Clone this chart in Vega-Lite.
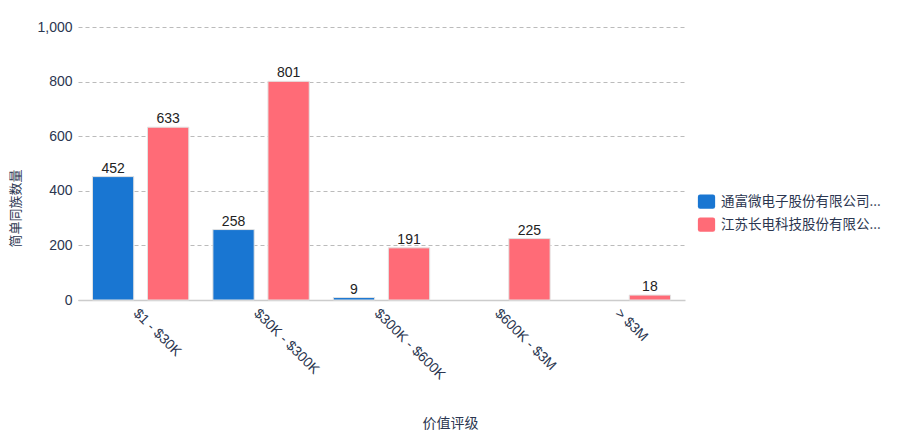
{
  "$schema": "https://vega.github.io/schema/vega-lite/v6.json",
  "autosize": "none",
  "width": 607,
  "height": 273,
  "padding": {"left": 78, "top": 27, "right": 231, "bottom": 135},
  "background": "white",
  "config": {
    "font": "Liberation Sans, Noto Sans CJK SC, sans-serif",
    "view": {"stroke": null}
  },
  "data": {
    "values": [
      {"rating": "$1 - $30K", "company": "通富微电子股份有限公司", "count": 452},
      {"rating": "$1 - $30K", "company": "江苏长电科技股份有限公司", "count": 633},
      {"rating": "$30K - $300K", "company": "通富微电子股份有限公司", "count": 258},
      {"rating": "$30K - $300K", "company": "江苏长电科技股份有限公司", "count": 801},
      {"rating": "$300K - $600K", "company": "通富微电子股份有限公司", "count": 9},
      {"rating": "$300K - $600K", "company": "江苏长电科技股份有限公司", "count": 191},
      {"rating": "$600K - $3M", "company": "江苏长电科技股份有限公司", "count": 225},
      {"rating": "> $3M", "company": "江苏长电科技股份有限公司", "count": 18}
    ]
  },
  "encoding": {
    "x": {
      "field": "rating",
      "type": "nominal",
      "sort": ["$1 - $30K", "$30K - $300K", "$300K - $600K", "$600K - $3M", "> $3M"],
      "scale": {"paddingInner": 0.2, "paddingOuter": 0.12},
      "axis": {
        "title": "价值评级",
        "titleFont": "Noto Sans CJK SC",
        "titleFontSize": 14,
        "titleFontWeight": "normal",
        "titleColor": "#2b3650",
        "titleX": 372,
        "titleY": 123,
        "titleBaseline": "middle",
        "titleAlign": "center",
        "labelAngle": 45,
        "labelFontSize": 14,
        "labelColor": "#2b3650",
        "labelPadding": 6,
        "ticks": false,
        "domainColor": "#cccccc",
        "domainWidth": 1.5,
        "grid": false
      }
    },
    "xOffset": {
      "field": "company",
      "type": "nominal",
      "sort": ["通富微电子股份有限公司", "江苏长电科技股份有限公司"],
      "scale": {"paddingInner": 0.25}
    },
    "y": {
      "field": "count",
      "type": "quantitative",
      "scale": {"domain": [0, 1000]},
      "axis": {
        "title": "简单同族数量",
        "titleFont": "Noto Sans CJK SC",
        "titleFontSize": 13,
        "titleFontWeight": "normal",
        "titleColor": "#2b3650",
        "titleY": 181,
        "titlePadding": 14,
        "values": [0, 200, 400, 600, 800, 1000],
        "format": ",d",
        "labelFontSize": 14,
        "labelColor": "#2b3650",
        "labelPadding": 6,
        "labelOverlap": false,
        "ticks": false,
        "domain": false,
        "gridColor": "#bbbbbb",
        "gridDash": [4, 3],
        "gridWidth": 1
      }
    }
  },
  "layer": [
    {
      "mark": {"type": "bar", "stroke": "#e3e3e3", "strokeWidth": 1},
      "encoding": {
        "color": {
          "field": "company",
          "type": "nominal",
          "sort": ["通富微电子股份有限公司", "江苏长电科技股份有限公司"],
          "scale": {"range": ["#1976d2", "#ff6b77"]},
          "legend": {
            "title": null,
            "orient": "none",
            "legendX": 621,
            "legendY": 167,
            "symbolType": "M -0.85 -0.95 L 0.85 -0.95 Q 1.15 -0.95 1.15 -0.65 L 1.15 0.65 Q 1.15 0.95 0.85 0.95 L -0.85 0.95 Q -1.15 0.95 -1.15 0.65 L -1.15 -0.65 Q -1.15 -0.95 -0.85 -0.95 Z",
            "symbolSize": 225,
            "symbolStrokeWidth": 0,
            "labelFont": "Noto Sans CJK SC",
            "labelFontSize": 13.5,
            "labelColor": "#2b3650",
            "labelLimit": 200,
            "labelExpr": "slice(datum.label, 0, 11) + '...'",
            "rowPadding": 8,
            "labelOffset": 7
          }
        }
      }
    },
    {
      "mark": {"type": "text", "baseline": "bottom", "dy": -1, "fontSize": 14, "color": "#222222"},
      "encoding": {
        "text": {"field": "count", "type": "quantitative"}
      }
    }
  ]
}
